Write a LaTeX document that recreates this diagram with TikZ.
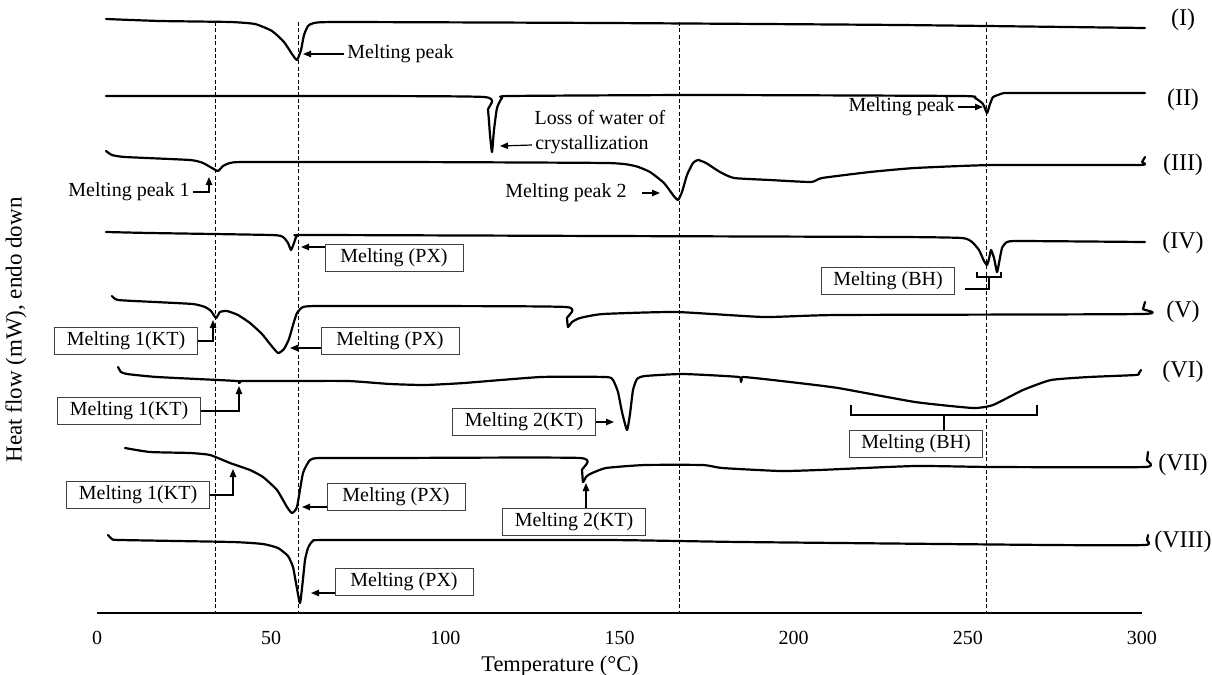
\documentclass[tikz,border=0pt]{standalone}
\usepackage{fontspec}
\setmainfont{Liberation Serif}
\usetikzlibrary{arrows.meta}

\begin{document}
\begin{tikzpicture}
[x=0.5pt,y=-0.5pt,
  curveDecorate/.style={line width=1.1pt,line join=round,line cap=round},
  guideDecorate/.style={line width=0.4pt,dash pattern=on 2pt off 1.2pt},
  lineDecorate/.style={line width=0.6pt},
  arrowDecorate/.style={lineDecorate,-{Triangle[length=4pt,width=3.2pt]}},
  boxDecorate/.style={shape=rectangle,draw=black!75,line width=0.5pt,inner xsep=6pt,inner ysep=1pt,
    minimum width=69pt,minimum height=13.5pt,font=\fontsize{10}{12}\selectfont},
  textDecorate/.style={inner sep=1.5pt,font=\fontsize{10}{12}\selectfont}]
\useasboundingbox (0,0) rectangle (1212,675);
%% guide lines and axis
\foreach \gx in {215,298,679,986}
{
  \draw[guideDecorate] (\gx,22) -- (\gx,613);
}
\draw[line width=1.2pt] (97,613) -- (1142,613);
\foreach \t in {0,50,...,300}
{
  \node[font=\fontsize{10}{12}\selectfont] (tick\t) at ({97+\t*3.4833},638) {\t};
}
\node[font=\fontsize{11.2}{13}\selectfont] (xlabel) at (560,666) {Temperature (°C)};
\node[rotate=90,font=\fontsize{11.5}{13}\selectfont] (ylabel) at (16,330) {Heat flow (mW), endo down};
%% curve names
\foreach \lbl/\ly in {I/20, II/100, III/165, IV/243, V/312, VI/372, VII/465, VIII/542}
{
  \node[font=\fontsize{12}{14}\selectfont] (lab\lbl) at (1183,\ly) {(\lbl)};
}
%% curves
\draw[curveDecorate] plot[smooth,tension=0.3] coordinates {(106,19) (160,21) (230,22) (255,24) (272,31) (284,42) (292,54) (297,60) (301,50) (304,35) (308,26) (314,23) (340,22) (606,23) (900,25) (1145,28)};
\draw[curveDecorate] plot[smooth,tension=0.3] coordinates {(106,96) (300,96) (484,97) (488,110) (490,135) (492,152) (494,130) (497,108) (502,98) (510,96) (700,95) (960,96) (975,98) (983,104) (987,113) (990,104) (993,97) (998,95) (1004,93) (1020,93) (1145,93)};
\draw[curveDecorate] plot[smooth,tension=0.3] coordinates {(106,151) (112,155) (125,157) (190,160) (203,163) (212,168) (218,171) (223,166) (230,163) (245,162) (400,162) (606,163) (635,166) (650,172) (664,183) (673,195) (678,200) (682,192) (687,175) (693,163) (698,160) (706,163) (720,172) (734,178) (770,180) (811,182) (822,178) (870,172) (915,168) (993,165) (1139,165) (1142,162) (1145,157)};
\draw[curveDecorate] plot[smooth,tension=0.3] coordinates {(106,232) (150,233) (271,235) (283,237) (288,243) (291,250) (294,243) (297,236) (310,235) (606,236) (900,237) (962,238) (972,242) (979,250) (984,261) (987,265) (989,259) (991,250) (994,258) (997,272) (999,263) (1002,248) (1007,242) (1020,241) (1145,242)};
\draw[curveDecorate] plot[smooth,tension=0.3] coordinates {(112,296) (118,300) (155,302) (193,304) (205,307) (211,311) (216,318) (220,312) (227,311) (238,315) (250,323) (262,334) (270,344) (278,353) (284,349) (289,339) (293,325) (297,313) (303,307) (317,306) (400,306) (566,307) (567,318) (568,327) (572,322) (580,318) (603,314) (676,312) (764,317) (838,315) (1141,314) (1143,309) (1145,302)};
\draw[curveDecorate] plot[smooth,tension=0.3] coordinates {(118,367) (121,372) (127,374) (157,377) (237,381) (239,383) (242,381) (290,381) (348,381) (390,384) (425,385) (464,383) (541,377) (606,377) (613,380) (618,392) (622,412) (627,430) (630,414) (633,390) (637,379) (645,376) (683,374) (739,377) (741,382) (743,377) (790,382) (838,388) (915,402) (973,408) (993,405) (1023,390) (1051,380) (1089,377) (1136,375) (1139,373) (1141,370)};
\draw[curveDecorate] plot[smooth,tension=0.3] coordinates {(125,448) (150,452) (190,453) (210,455) (230,463) (250,470) (263,477) (277,490) (287,507) (292,513) (297,507) (303,473) (310,460) (320,458) (390,458) (580,458) (582,470) (583,482) (586,477) (590,474) (606,468) (645,465) (703,465) (722,468) (780,471) (819,470) (915,466) (993,467) (1145,467) (1147,460) (1148,452)};
\draw[curveDecorate] plot[smooth,tension=0.3] coordinates {(108,535) (112,539) (120,540) (232,542) (263,544) (278,548) (288,556) (293,567) (296,583) (300,603) (303,579) (305,560) (308,548) (313,541) (330,540) (606,540) (741,542) (1050,545) (1145,545) (1147,540) (1148,535)};
%% labels (I)-(III)
\node[textDecorate,anchor=west] (peakI) at (344,54) {Melting peak};
\coordinate (tipI) at (303,54);
\draw[arrowDecorate] (peakI.west) -- (tipI);
\node[textDecorate,anchor=east] (peakII) at (958,107) {Melting peak};
\coordinate (tipII) at (983,107);
\draw[arrowDecorate] (peakII.east) -- (tipII);
\node[textDecorate] (lossA) at (600,118) {Loss of water of};
\node[textDecorate] (lossB) at (592,145) {crystallization};
\coordinate (tipLoss) at (500,146);
\draw[arrowDecorate] (lossB.west) -- (tipLoss);
\node[textDecorate] (peakIIIa) at (129,192) {Melting peak 1};
\coordinate (tipIIIa) at (209,177);
\draw[arrowDecorate] (peakIIIa.east) -| (tipIIIa);
\node[textDecorate] (peakIIIb) at (566,193) {Melting peak 2};
\coordinate (tipIIIb) at (660,193);
\draw[arrowDecorate,shorten <=6pt] (peakIIIb.east) -- (tipIIIb);
%% labels (IV)-(V)
\node[boxDecorate] (pxIV) at (394,258) {Melting (PX)};
\coordinate (tipIV) at (301,247);
\draw[arrowDecorate] (pxIV.west |- tipIV) -- (tipIV);
\node[boxDecorate,minimum width=60pt] (bhIV) at (888,281) {Melting (BH)};
\coordinate (brIV) at (989,277);
\draw[lineDecorate] (brIV) ++(-12,-5) -- ++(0,5) -- ++(24,0) -- ++(0,-5);
\draw[lineDecorate] ([xshift=5pt,yshift=-4pt]bhIV.east) -| (brIV);
\node[boxDecorate] (ktIV) at (126,341) {Melting 1(KT)};
\coordinate (tipV) at (213,320);
\draw[arrowDecorate] (ktIV.east) -| (tipV);
\node[boxDecorate] (pxV) at (390,341) {Melting (PX)};
\coordinate (tipVb) at (290,348);
\draw[arrowDecorate] (pxV.west |- tipVb) -- (tipVb);
%% labels (VI)
\node[boxDecorate] (ktVI) at (129,411) {Melting 1(KT)};
\coordinate (tipVI) at (239,386);
\draw[arrowDecorate] (ktVI.east) -| (tipVI);
\node[boxDecorate] (ktVIb) at (524,422) {Melting 2(KT)};
\coordinate (tipVIb) at (614,422);
\draw[arrowDecorate] (ktVIb.east) -- (tipVIb);
\node[boxDecorate,minimum width=60pt] (bhVI) at (916,444) {Melting (BH)};
\coordinate (brVI) at (944,415);
\draw[lineDecorate] (brVI) ++(-93,-10) -- ++(0,10) -- ++(186,0) -- ++(0,-10);
\draw[lineDecorate] (brVI) -- (brVI |- bhVI.north);
%% labels (VII)-(VIII)
\node[boxDecorate] (ktVII) at (138,495) {Melting 1(KT)};
\coordinate (tipVII) at (233,469);
\draw[arrowDecorate] (ktVII.east) -| (tipVII);
\node[boxDecorate] (pxVII) at (396,497) {Melting (PX)};
\coordinate (tipVIIb) at (302,507);
\draw[arrowDecorate] (pxVII.west |- tipVIIb) -- (tipVIIb);
\node[boxDecorate] (ktVIIc) at (574,522) {Melting 2(KT)};
\coordinate (tipVIIc) at (586,483);
\draw[arrowDecorate] (tipVIIc |- ktVIIc.north) -- (tipVIIc);
\node[boxDecorate] (pxVIII) at (404,582) {Melting (PX)};
\coordinate (tipVIII) at (311,593);
\draw[arrowDecorate] (pxVIII.west |- tipVIII) -- (tipVIII);
\end{tikzpicture}
\end{document}
